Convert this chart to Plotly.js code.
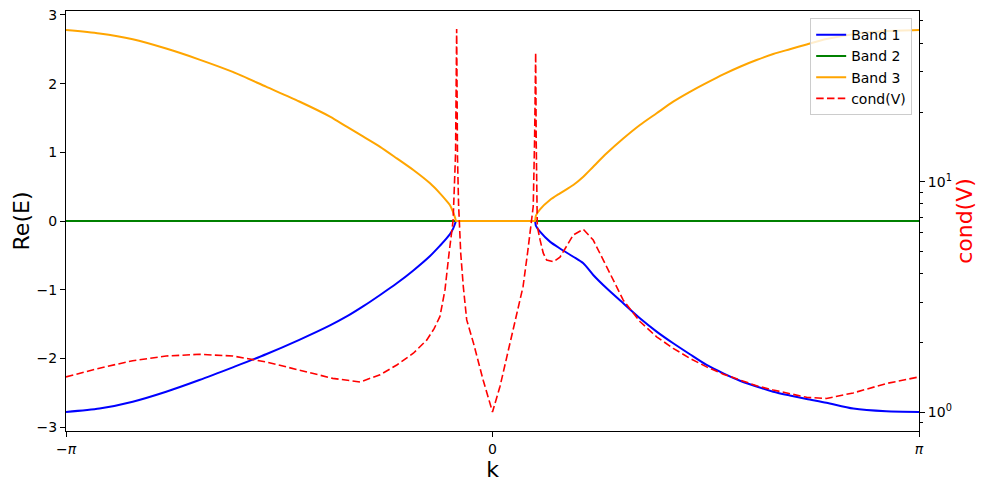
<!DOCTYPE html>
<html>
<head>
<meta charset="utf-8">
<script src="https://cdn.plot.ly/plotly-3.0.1.min.js"></script>
<style>html,body{margin:0;padding:0;background:#fff;}#chart{width:989px;height:489px;}</style>
</head>
<body>
<div id="chart"></div>
<script>
// k grid for bands
const kBand = [-3.1416, -2.895, -2.650, -2.404, -2.159, -1.913, -1.668, -1.423, -1.197, -1.074,
               -0.951, -0.828, -0.705, -0.583, -0.460, -0.387, -0.337, -0.313, -0.290, -0.276,
               -0.269, -0.265, -0.150, 0.000, 0.150, 0.309, 0.313,
               0.320, 0.350, 0.423, 0.497, 0.595, 0.669, 0.742, 0.841, 0.963, 1.086,
               1.209, 1.331, 1.454, 1.577, 1.700, 1.823, 1.945, 2.068, 2.190, 2.314,
               2.460, 2.657, 2.900, 3.1416];
const band1 = [-2.78, -2.73, -2.63, -2.485, -2.315, -2.13, -1.94, -1.73, -1.52, -1.39,
               -1.24, -1.077, -0.907, -0.72, -0.51, -0.36, -0.25, -0.19, -0.11, -0.04,
               0, 0, 0, 0, 0, 0, 0,
               -0.07, -0.155, -0.30, -0.40, -0.52, -0.616, -0.786, -0.98, -1.198, -1.416,
               -1.61, -1.78, -1.94, -2.096, -2.217, -2.325, -2.41, -2.485, -2.54, -2.59,
               -2.645, -2.73, -2.77, -2.78];
const band2 = [0, 0, 0, 0, 0, 0, 0, 0, 0, 0,
               0, 0, 0, 0, 0, 0, 0, 0, 0, 0,
               0, 0, 0, 0, 0, 0, 0,
               0, 0, 0, 0, 0, 0, 0, 0, 0, 0,
               0, 0, 0, 0, 0, 0, 0, 0, 0, 0,
               0, 0, 0, 0];
const band3 = [2.78, 2.73, 2.645, 2.51, 2.35, 2.17, 1.955, 1.74, 1.52, 1.373,
               1.227, 1.08, 0.912, 0.742, 0.548, 0.403, 0.29, 0.23, 0.13, 0.05,
               0, 0, 0, 0, 0, 0, 0,
               0.08, 0.17, 0.306, 0.403, 0.524, 0.645, 0.79, 0.985, 1.20, 1.397,
               1.568, 1.737, 1.88, 2.01, 2.135, 2.246, 2.343, 2.43, 2.50, 2.57,
               2.65, 2.72, 2.765, 2.78];

// condition number of eigenvector matrix
const kCond = [-3.1416, -2.895, -2.650, -2.404, -2.159, -1.913, -1.668, -1.423, -1.177, -0.976,
               -0.828, -0.705, -0.583, -0.485, -0.430, -0.387, -0.350, -0.320, -0.290, -0.272,
               -0.264, -0.258, -0.250, -0.234, -0.215, -0.190, -0.141, -0.068, 0.000, 0.055,
               0.129, 0.180, 0.225, 0.260, 0.300, 0.310, 0.318, 0.322, 0.330, 0.350,
               0.374, 0.399, 0.448, 0.497, 0.546, 0.595, 0.669, 0.742, 0.841, 0.963,
               1.086, 1.209, 1.331, 1.454, 1.577, 1.700, 1.823, 1.945, 2.068, 2.190,
               2.314, 2.460, 2.657, 2.903, 3.1416];
const condV = [1.42, 1.55, 1.67, 1.75, 1.78, 1.75, 1.65, 1.52, 1.40, 1.35,
               1.45, 1.60, 1.80, 2.05, 2.3, 2.6, 3.39, 4.89, 6.8, 13.3,
               46, 13, 8, 4.89, 3.5, 2.51, 2.0, 1.37, 1.0, 1.29,
               1.99, 2.65, 3.5, 5.0, 7.8, 15.2, 36.3, 15, 6.4, 5.6,
               4.89, 4.57, 4.49, 4.70, 5.22, 5.87, 6.21, 5.58, 4.27, 3.06,
               2.47, 2.12, 1.89, 1.71, 1.57, 1.46, 1.377, 1.30, 1.246, 1.197,
               1.158, 1.145, 1.21, 1.33, 1.42];

const xTickVals = [-Math.PI, 0, Math.PI];
const xTickText = ['\u2212<i>\u03c0</i>', '0', '<i>\u03c0</i>'];
const y2TickVals = [1, 10];
const y2TickText = ['10<sup>0</sup>', '10<sup>1</sup>'];
const y2Minor = [0.9, 2, 3, 4, 5, 6, 7, 8, 9, 20, 30, 40, 50];

const bandLine = (c) => ({color: c, width: 2, shape: 'spline', smoothing: 0.7});
const traces = [
  {x: kBand, y: band1, name: 'Band 1', mode: 'lines', line: bandLine('#0000ff')},
  {x: kBand, y: band2, name: 'Band 2', mode: 'lines', line: {color: '#008000', width: 2}},
  {x: kBand, y: band3, name: 'Band 3', mode: 'lines', line: bandLine('#ffa500')},
  {x: kCond, y: condV, name: 'cond(V)', mode: 'lines', yaxis: 'y2', line: {color: '#ff0000', width: 1.6, dash: '7.5px,3.3px'}}
];

const layout = {
  width: 989, height: 489,
  margin: {l: 66, r: 70, t: 11, b: 58},
  paper_bgcolor: '#ffffff', plot_bgcolor: '#ffffff',
  font: {family: 'DejaVu Sans, sans-serif', size: 14, color: '#000'},
  showlegend: true,
  legend: {x: 0.992, y: 0.983, xanchor: 'right', yanchor: 'top', bgcolor: 'rgba(255,255,255,0.8)', bordercolor: '#cccccc', borderwidth: 1, font: {size: 14}, itemwidth: 30},
  xaxis: {
    range: [-Math.PI, Math.PI], tickmode: 'array', tickvals: xTickVals, ticktext: xTickText,
    ticks: 'outside', ticklen: 5, tickcolor: '#000', showline: true, mirror: true, linecolor: '#000', linewidth: 1,
    showgrid: false, zeroline: false, tickfont: {size: 14},
    title: {text: 'k', font: {size: 22}, standoff: 4}
  },
  yaxis: {
    range: [-3.057, 3.057], tickmode: 'linear', tick0: 0, dtick: 1,
    ticks: 'outside', ticklen: 5, tickcolor: '#000', showline: true, mirror: true, linecolor: '#000', linewidth: 1,
    showgrid: false, zeroline: false, tickfont: {size: 14},
    title: {text: 'Re(E)', font: {size: 22}, standoff: 0}
  },
  yaxis2: {
    overlaying: 'y', side: 'right', type: 'log', range: [-0.0825, 1.741],
    tickmode: 'array', tickvals: y2TickVals, ticktext: y2TickText,
    ticks: 'outside', ticklen: 5, tickcolor: '#000', showline: true, linecolor: '#000', linewidth: 1,
    minor: {tickmode: 'array', tickvals: y2Minor, ticks: 'outside', ticklen: 3, tickcolor: '#000', showgrid: false},
    showgrid: false, zeroline: false, tickfont: {size: 14},
    title: {text: 'cond(V)', font: {size: 22, color: '#ff0000'}, standoff: 5}
  }
};

Plotly.newPlot('chart', traces, layout, {displayModeBar: false, staticPlot: true});
</script>
</body>
</html>
